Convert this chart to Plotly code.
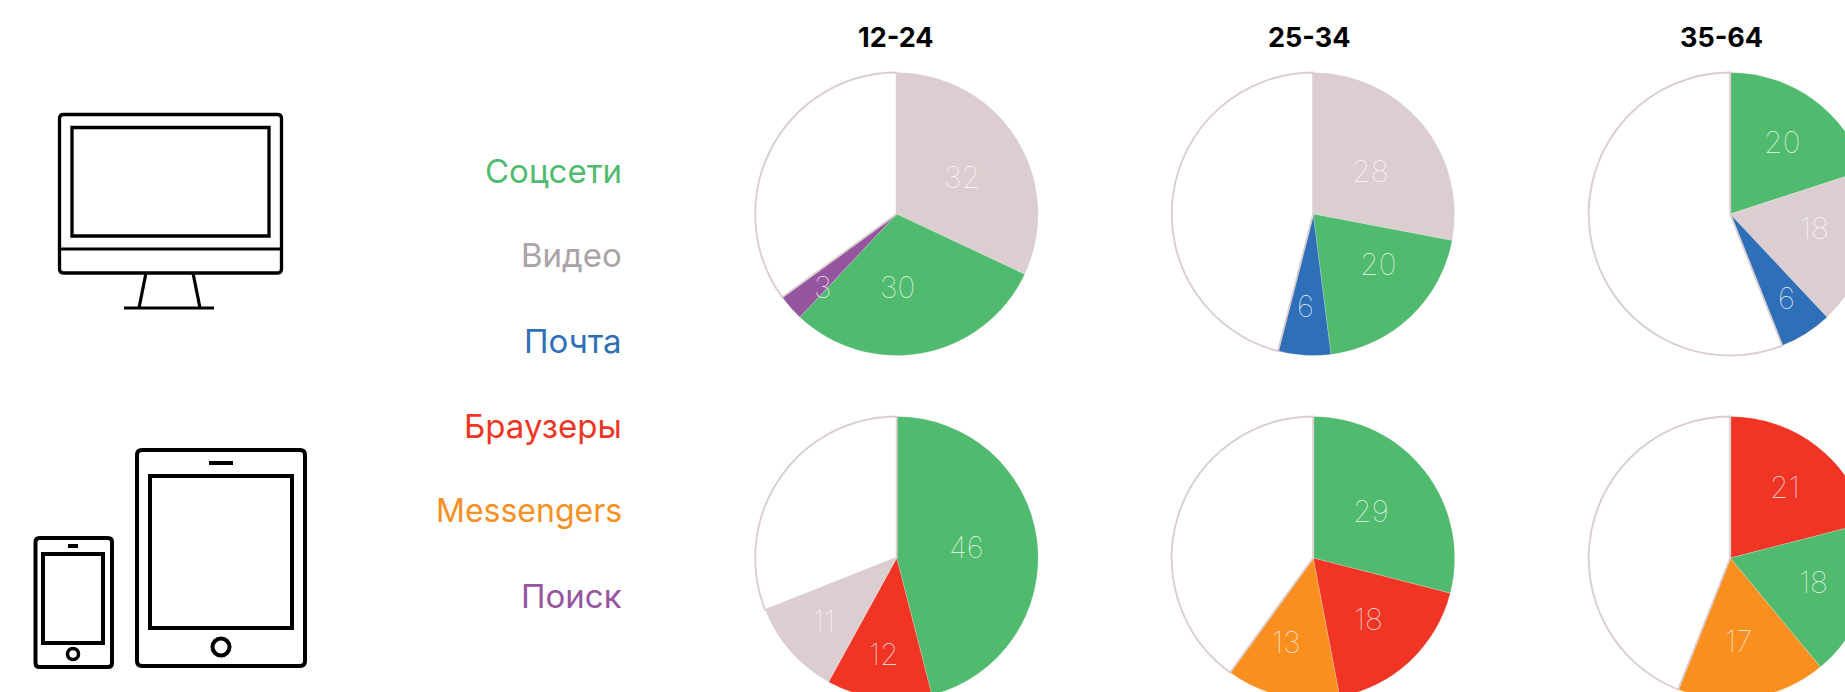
import plotly.graph_objects as go

# ---- data ----
age_groups = ["12-24", "25-34", "35-64"]
legend_names = ["Соцсети", "Видео", "Почта", "Браузеры", "Messengers", "Поиск"]

desktop_12_24_names = ["Видео", "Соцсети", "Поиск"]
desktop_12_24_values = [32, 30, 3]
desktop_25_34_names = ["Видео", "Соцсети", "Почта"]
desktop_25_34_values = [28, 20, 6]
desktop_35_64_names = ["Соцсети", "Видео", "Почта"]
desktop_35_64_values = [20, 18, 6]
mobile_12_24_names = ["Соцсети", "Браузеры", "Видео"]
mobile_12_24_values = [46, 12, 11]
mobile_25_34_names = ["Соцсети", "Браузеры", "Messengers"]
mobile_25_34_values = [29, 18, 13]
mobile_35_64_names = ["Браузеры", "Соцсети", "Messengers"]
mobile_35_64_values = [21, 18, 17]

# ---- styles and layout ----
W, H = 1900, 730
COLORS = {"Соцсети": "#50BB6E", "Видео": "#DCCDD1", "Почта": "#2E6FB7",
          "Браузеры": "#F13525", "Messengers": "#F98F1F", "Поиск": "#96559F"}
LEGEND_COLORS = dict(COLORS, **{"Видео": "#ABA3A7"})
LEGEND_SIZES = {"Messengers": 32}
OUTLINE = "#DCCDD1"
R = 141.5
COL_X = [896.7, 1313.2, 1730.2]
ROW_Y = [214, 558]
TITLE_X = [896, 1309, 1721]

px = lambda x: x / W
py = lambda y: 1 - y / H

rows = [
    [(desktop_12_24_names, desktop_12_24_values), (desktop_25_34_names, desktop_25_34_values),
     (desktop_35_64_names, desktop_35_64_values)],
    [(mobile_12_24_names, mobile_12_24_values), (mobile_25_34_names, mobile_25_34_values),
     (mobile_35_64_names, mobile_35_64_values)],
]
# where the reference places each number
label_pos = [
    [[(962, 177), (897, 287), (822, 287)], [(1370, 171), (1378, 264), (1305, 306)],
     [(1782, 142), (1814, 228), (1786, 298)]],
    [[(966, 547), (884, 654), (824, 621)], [(1371, 511), (1368, 619), (1286, 642)],
     [(1785, 487), (1813, 582), (1738, 641)]],
]

fig = go.Figure()
annotations = []
for ri, row in enumerate(rows):
    for ci, (names, values) in enumerate(row):
        rest = 100 - sum(values)
        fig.add_trace(go.Pie(
            labels=names + ["Другое"], values=values + [rest], sort=False,
            direction="clockwise", rotation=0, textinfo="none", showlegend=False,
            hoverinfo="label+value",
            domain=dict(x=[px(COL_X[ci] - R), px(COL_X[ci] + R)],
                        y=[py(ROW_Y[ri] + R), py(ROW_Y[ri] - R)]),
            marker=dict(colors=[COLORS[n] for n in names] + ["#FFFFFF"],
                        line=dict(color=["rgba(255,255,255,0.5)"] * len(names) + [OUTLINE],
                                  width=[0.4] * len(names) + [1.9])),
        ))
        for v, (lx, ly) in zip(values, label_pos[ri][ci]):
            annotations.append(dict(
                text=str(v), x=px(lx), y=py(ly), xref="paper", yref="paper",
                showarrow=False, xanchor="center", yanchor="middle",
                font=dict(family="Inter", size=30, color="rgba(255,255,255,0.9)", weight=100)))

for t, x in zip(age_groups, TITLE_X):
    annotations.append(dict(text=t, x=px(x), y=py(37.5), xref="paper", yref="paper",
                            showarrow=False, xanchor="center", yanchor="middle",
                            font=dict(family="Inter", size=27, color="#000000", weight=700)))

for i, n in enumerate(legend_names):
    annotations.append(dict(text=n, x=px(624), y=py(170.5 + 85 * i), xref="paper", yref="paper",
                            showarrow=False, xanchor="right", yanchor="middle",
                            font=dict(family="Inter", size=LEGEND_SIZES.get(n, 33),
                                      color=LEGEND_COLORS[n], weight=400)))


# ---- icons ----
def rrect(x0, y0, x1, y1, r, w):
    p = (f"M {px(x0 + r)} {py(y0)} L {px(x1 - r)} {py(y0)} Q {px(x1)} {py(y0)} {px(x1)} {py(y0 + r)} "
         f"L {px(x1)} {py(y1 - r)} Q {px(x1)} {py(y1)} {px(x1 - r)} {py(y1)} "
         f"L {px(x0 + r)} {py(y1)} Q {px(x0)} {py(y1)} {px(x0)} {py(y1 - r)} "
         f"L {px(x0)} {py(y0 + r)} Q {px(x0)} {py(y0)} {px(x0 + r)} {py(y0)} Z")
    return dict(type="path", xref="paper", yref="paper", path=p, line=dict(color="#000", width=w))


def rect(x0, y0, x1, y1, w):
    return dict(type="rect", xref="paper", yref="paper", x0=px(x0), x1=px(x1), y0=py(y0), y1=py(y1),
                line=dict(color="#000", width=w))


def line(x0, y0, x1, y1, w):
    return dict(type="line", xref="paper", yref="paper", x0=px(x0), x1=px(x1), y0=py(y0), y1=py(y1),
                line=dict(color="#000", width=w))


def circle(cx, cy, r, w):
    return dict(type="circle", xref="paper", yref="paper", x0=px(cx - r), x1=px(cx + r),
                y0=py(cy - r), y1=py(cy + r), line=dict(color="#000", width=w))


shapes = [
    rrect(59.5, 114.5, 281.5, 273, 4, 3.3), rect(72, 127.5, 269, 236, 3.3), line(59.5, 249, 281.5, 249, 2.8),
    line(146, 273, 139, 308, 3.2), line(193, 273, 200, 308, 3.2), line(124, 308, 214, 308, 3.2),
    rrect(137, 450, 305, 666, 5, 4), rect(150, 476, 292, 628, 4), line(209, 463, 233, 463, 4),
    circle(221, 647, 8.5, 4),
    rrect(35.5, 538, 112, 667, 4, 4), rect(43, 554, 103, 643, 4), line(68, 546, 78, 546, 4),
    circle(73, 654, 5.5, 3.5),
]

fig.update_layout(width=W, height=H, margin=dict(l=0, r=0, t=0, b=0), autosize=False,
                  paper_bgcolor="#FFFFFF", plot_bgcolor="#FFFFFF",
                  annotations=annotations, shapes=shapes)

fig.write_html("out.html", config={"displayModeBar": False},
               post_script="document.body.style.margin='0';"
                           "document.documentElement.style.overflow='hidden';"
                           "document.body.style.overflow='hidden';")
